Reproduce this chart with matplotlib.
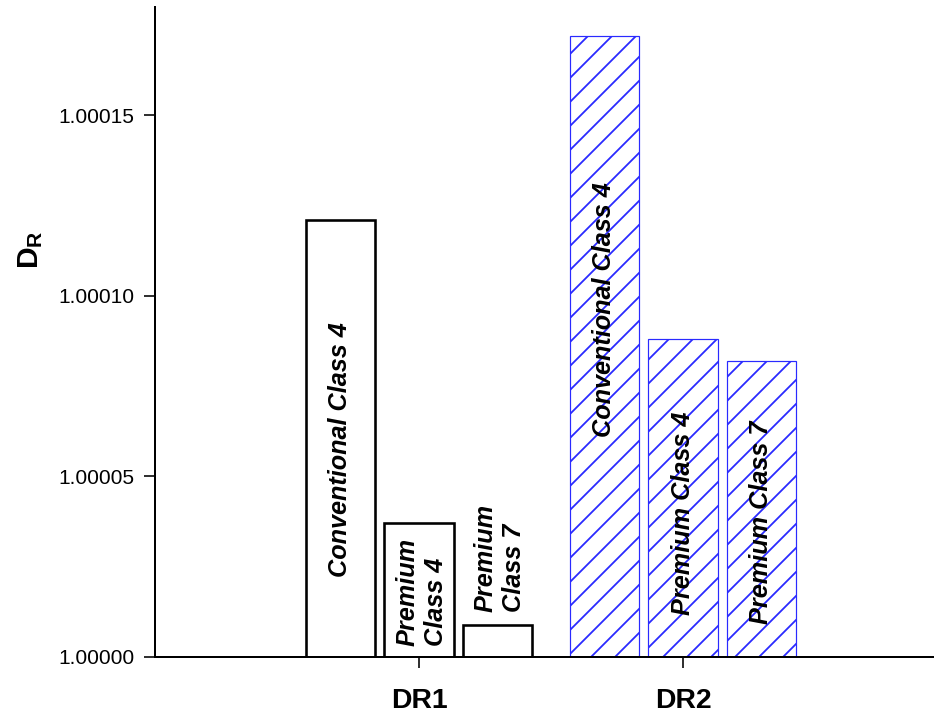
import matplotlib
matplotlib.use('Agg')
import matplotlib.pyplot as plt
from matplotlib.ticker import FormatStrFormatter

# Ratios per scheme and product class
groups = ['DR1', 'DR2']
classes = ['Conventional Class 4', 'Premium Class 4', 'Premium Class 7']
dr1_vals = [1.000121, 1.000037, 1.000009]
dr2_vals = [1.000172, 1.000088, 1.000082]

dr1_labels = ['Conventional Class 4', 'Premium\nClass 4', 'Premium\nClass 7']
dr2_labels = ['Conventional Class 4', 'Premium Class 4', 'Premium Class 7']
# where the rotated names sit (height above baseline)
dr1_label_y = [5.74e-5, 1.80e-5, 2.74e-5]
dr2_label_y = [9.62e-5, 3.97e-5, 3.72e-5]

plt.rcParams['font.family'] = ['Liberation Sans', 'DejaVu Sans']
plt.rcParams['mathtext.fontset'] = 'custom'
plt.rcParams['mathtext.bf'] = 'Liberation Sans:bold'
plt.rcParams['mathtext.rm'] = 'Liberation Sans'
plt.rcParams['hatch.color'] = '#0000ee'
plt.rcParams['hatch.linewidth'] = 0.9

base = 1.0
width = 0.262
offsets = [-0.298, 0.0, 0.296]
centers = [1, 2]

fig = plt.figure(figsize=(934 / 144, 722 / 144), dpi=144)
ax = fig.add_axes([155 / 934, 65 / 722, 779 / 934, 650 / 722])

for i, off in enumerate(offsets):
    ax.bar(centers[0] + off, dr1_vals[i] - base, bottom=base, width=width,
           facecolor='white', edgecolor='black', linewidth=1.3)
    ax.bar(centers[1] + off, dr2_vals[i] - base, bottom=base, width=width,
           facecolor='white', edgecolor='#2a2aff', linewidth=0.6, hatch='//')

for i, off in enumerate(offsets):
    ax.text(centers[0] + off + (0.01 if i else 0), base + dr1_label_y[i], dr1_labels[i],
            rotation=90, ha='center', va='center', multialignment='left',
            fontsize=12.6, fontweight='bold', fontstyle='italic', linespacing=1.25)
    ax.text(centers[1] + off, base + dr2_label_y[i], dr2_labels[i],
            rotation=90, ha='center', va='center',
            fontsize=12.6, fontweight='bold', fontstyle='italic')

ax.set_xlim(0, 779 / 264)
ax.set_ylim(base, base + 0.00018)
ax.set_xticks(centers)
ax.set_xticklabels(groups, fontsize=14.2, fontweight='bold')
ax.set_yticks([1.0, 1.00005, 1.0001, 1.00015])
ax.yaxis.set_major_formatter(FormatStrFormatter('%.5f'))

ax.spines['top'].set_visible(False)
ax.spines['right'].set_visible(False)
ax.spines['left'].set_linewidth(1.0)
ax.spines['bottom'].set_linewidth(1.0)
ax.tick_params(axis='y', direction='out', length=5.5, width=0.8, pad=5, labelsize=10.5)
ax.tick_params(axis='x', direction='out', length=5.5, width=0.8, pad=10)

ax.set_ylabel(r'$\mathbf{D_R}$', fontsize=15)
ax.yaxis.set_label_coords(-110 / 779, 0.626)

fig.savefig('out.png', dpi=144)
